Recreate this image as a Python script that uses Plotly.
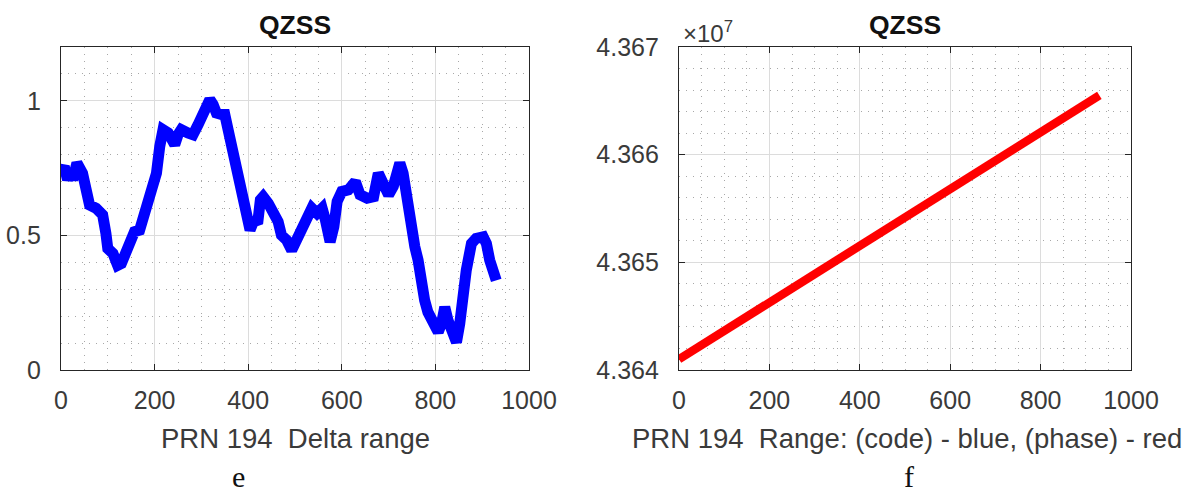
import plotly.graph_objects as go

# PRN 194 delta range (left panel)
delta_t = [0, 7, 14, 21, 25, 34, 46, 54, 61, 75, 89, 96, 100, 111, 121, 129, 139, 150,
           157, 168, 176, 186, 196, 204, 211, 218, 229, 236, 243, 250, 257, 271, 282,
           293, 304, 311, 318, 325, 332, 343, 350, 357, 368, 379, 389, 400, 404, 411,
           421, 426, 432, 443, 454, 464, 471, 482, 493, 500, 511, 522, 536, 547, 558,
           565, 575, 583, 590, 600, 614, 629, 639, 654, 668, 678, 689, 700, 710, 717,
           724, 731, 738, 745, 756, 763, 770, 777, 784, 795, 806, 813, 820, 827, 837,
           845, 852, 859, 866, 877, 887, 902, 909, 916, 923, 930]
delta_range = [0.738, 0.756, 0.707, 0.738, 0.706, 0.769, 0.731, 0.644, 0.613, 0.601,
               0.576, 0.507, 0.451, 0.433, 0.389, 0.396, 0.433, 0.483, 0.514, 0.520,
               0.570, 0.644, 0.682, 0.731, 0.831, 0.893, 0.881, 0.850, 0.837, 0.874,
               0.893, 0.881, 0.874, 0.912, 0.955, 0.999, 1.005, 0.986, 0.955, 0.949,
               0.949, 0.893, 0.806, 0.731, 0.644, 0.532, 0.520, 0.551, 0.557, 0.632,
               0.644, 0.619, 0.582, 0.551, 0.501, 0.483, 0.445, 0.470, 0.514, 0.557,
               0.601, 0.582, 0.601, 0.557, 0.476, 0.532, 0.626, 0.663, 0.669, 0.700,
               0.651, 0.638, 0.644, 0.731, 0.694, 0.651, 0.682, 0.756, 0.769, 0.731,
               0.632, 0.551, 0.458, 0.408, 0.308, 0.259, 0.215, 0.178, 0.141, 0.172,
               0.234, 0.184, 0.147, 0.103, 0.172, 0.296, 0.371, 0.470, 0.489, 0.495,
               0.470, 0.408, 0.371, 0.333]

# PRN 194 phase range (right panel)
range_t = [0, 200, 400, 600, 800, 930]
phase_range = [43641000, 43646300, 43651400, 43656700, 43662000, 43665500]

x_ticks = [0, 200, 400, 600, 800, 1000]
left_y_ticks = [0, 0.5, 1]
left_y_text = ["0", "0.5", "1"]
right_y_ticks = [43640000, 43650000, 43660000, 43670000]
right_y_text = ["4.364", "4.365", "4.366", "4.367"]

W, H = 1189, 495
SANS = "Liberation Sans, Arial, sans-serif"
TICK_FONT = dict(family=SANS, size=25, color="#3a3a3a")
LABEL_FONT = dict(family=SANS, size=27.5, color="#3a3a3a")
TITLE_FONT = dict(family=SANS, size=26.5, color="#111111")
CAPTION_FONT = dict(family="Liberation Serif, Times New Roman, serif", size=30, color="#111111")

fig = go.Figure()
fig.add_trace(go.Scatter(x=delta_t, y=delta_range, mode="lines",
                         line=dict(color="#0000ff", width=11), xaxis="x", yaxis="y",
                         showlegend=False))
fig.add_trace(go.Scatter(x=range_t, y=phase_range, mode="lines",
                         line=dict(color="#ff0000", width=8.5), xaxis="x2", yaxis="y2",
                         showlegend=False))

# axis boxes in pixels
left_box = (61, 529)
right_box = (679, 1131)
top_px, bottom_px = 47, 370


def px_x(p):
    return p / W


def px_y(p):
    return 1 - p / H


common_axis = dict(
    showline=True, linecolor="#262626", linewidth=1.3, mirror="ticks",
    ticks="inside", ticklen=6, tickcolor="#262626", tickwidth=1.3,
    showgrid=True, gridcolor="#dcdcdc", gridwidth=1, zeroline=False,
    tickfont=TICK_FONT, fixedrange=True, automargin=False,
)

grid_minor = dict(showgrid=True, gridcolor="#a8a8a8", gridwidth=1, griddash="1px,6px", ticks="")

fig.update_layout(
    width=W, height=H,
    margin=dict(l=0, r=0, t=0, b=0, pad=0, autoexpand=False),
    paper_bgcolor="white", plot_bgcolor="white",
    xaxis=dict(domain=[px_x(left_box[0]), px_x(left_box[1])], range=[0, 1000],
               tickvals=x_ticks, minor=dict(dtick=50, **grid_minor),
               anchor="y", ticklabelstandoff=8, **common_axis),
    yaxis=dict(domain=[px_y(bottom_px), px_y(top_px)], range=[0, 1.2],
               tickvals=left_y_ticks, ticktext=left_y_text,
               minor=dict(dtick=0.1, tick0=0, **grid_minor),
               anchor="x", ticklabelstandoff=14, **common_axis),
    xaxis2=dict(domain=[px_x(right_box[0]), px_x(right_box[1])], range=[0, 1000],
                tickvals=x_ticks, minor=dict(dtick=50, **grid_minor),
                anchor="y2", ticklabelstandoff=8, **common_axis),
    yaxis2=dict(domain=[px_y(bottom_px), px_y(top_px)], range=[43640000, 43670000],
                tickvals=right_y_ticks, ticktext=right_y_text,
                minor=dict(dtick=2000, tick0=43640000, **grid_minor),
                anchor="x2", ticklabelstandoff=14, **common_axis),
)

annotations = [
    dict(text="<b>QZSS</b>", x=px_x(sum(left_box) / 2), y=px_y(25), font=TITLE_FONT),
    dict(text="<b>QZSS</b>", x=px_x(sum(right_box) / 2), y=px_y(25), font=TITLE_FONT),
    dict(text="PRN 194  Delta range", x=px_x(sum(left_box) / 2), y=px_y(438), font=LABEL_FONT),
    dict(text="PRN 194  Range: (code) - blue, (phase) - red", x=px_x(907),
         y=px_y(438), font=LABEL_FONT),
    dict(text="e", x=px_x(238), y=px_y(476), font=CAPTION_FONT),
    dict(text="f", x=px_x(909), y=px_y(476), font=CAPTION_FONT),
    dict(text="×10<sup>7</sup>", x=px_x(681), y=px_y(32), xanchor="left",
         font=dict(family=SANS, size=24, color="#3a3a3a")),
]
for a in annotations:
    a.setdefault("xanchor", "center")
    fig.add_annotation(xref="paper", yref="paper", yanchor="middle", showarrow=False, **a)

fig.write_html("out.html")
